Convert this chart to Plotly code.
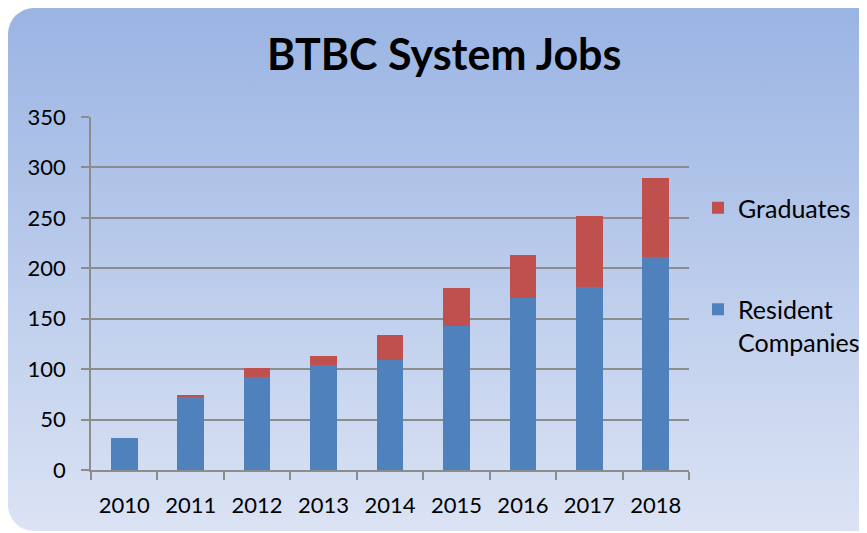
import plotly.graph_objects as go
import urllib.parse

years = ["2010", "2011", "2012", "2013", "2014", "2015", "2016", "2017", "2018"]
resident = [32, 72, 92, 104, 109, 143, 171, 181, 211]
graduates = [0, 2, 9, 9, 25, 37, 42, 71, 79]
y_ticks = [0, 50, 100, 150, 200, 250, 300, 350]

W, H = 867, 533
FONT = "Lato"

svg = (
    f'<svg xmlns="http://www.w3.org/2000/svg" width="{W}" height="{H}" viewBox="0 0 {W} {H}">'
    '<defs><linearGradient id="g" x1="0" y1="0" x2="0" y2="1">'
    '<stop offset="0" stop-color="#9AB4E3"/><stop offset="1" stop-color="#DBE3F4"/>'
    '</linearGradient></defs>'
    '<rect x="0" y="0" width="880" height="523" rx="26" ry="26" fill="url(#g)"/>'
    '</svg>'
)
src = "data:image/svg+xml;charset=utf-8," + urllib.parse.quote(svg)

# plot area in figure pixels
x0, x1 = 83, 681
y0, y1 = 462, 109

fig = go.Figure()
fig.add_trace(go.Bar(x=years, y=resident, name="Resident<br>Companies",
                     marker=dict(color="#4F81BD", line=dict(width=0)),
                     legendgroup="a", legendrank=2))
fig.add_trace(go.Bar(x=years, y=graduates, name="Graduates",
                     marker=dict(color="#C0504D", line=dict(width=0)),
                     legendgroup="b", legendrank=1))

fig.update_layout(
    width=W, height=H, autosize=False,
    margin=dict(l=0, r=0, t=0, b=0, pad=0),
    paper_bgcolor="white",
    plot_bgcolor="white",
    barmode="stack",
    bargap=0.6,
    font=dict(family=FONT, color="black", size=22),
    images=[dict(source=src, xref="paper", yref="paper", x=0, y=1,
                 sizex=1, sizey=1, sizing="stretch", xanchor="left",
                 yanchor="top", layer="below")],
    xaxis=dict(domain=[x0 / W, x1 / W], type="category", automargin=False,
               showline=True, linecolor="#8C8C8C", linewidth=1.5,
               ticks="outside", tickson="boundaries", ticklen=8,
               tickcolor="#8C8C8C", tickwidth=1.5,
               tickfont=dict(size=22, family=FONT),
               ticklabelstandoff=15, showgrid=False),
    yaxis=dict(domain=[(H - y0) / H, (H - y1) / H], range=[0, 350],
               automargin=False,
               tickvals=y_ticks, showline=True, linecolor="#8C8C8C",
               linewidth=1.5, ticks="outside", ticklen=8,
               tickcolor="#8C8C8C", tickwidth=1.5,
               gridcolor="#8C8C8C", gridwidth=1.5,
               tickfont=dict(size=22, family=FONT),
               ticklabelstandoff=11, zeroline=False),
    legend=dict(x=690 / W, y=(H - 177) / H, xanchor="left", yanchor="top",
                traceorder="grouped", tracegroupgap=66, valign="top",
                bgcolor="rgba(0,0,0,0)", font=dict(size=25, family=FONT),
                itemwidth=30),
    annotations=[dict(text="<b>BTBC System Jobs</b>", x=436 / W, y=(H - 46) / H,
                      xref="paper", yref="paper", showarrow=False,
                      font=dict(size=43, family=FONT, color="black"),
                      xanchor="center", yanchor="middle")],
)

fig.write_html("out.html")
